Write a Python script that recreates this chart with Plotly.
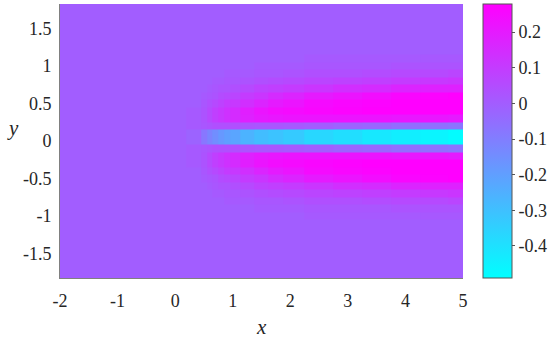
from __future__ import annotations

import plotly.graph_objects as go

# grid columns (x) and rows (y)
x_cols = [-2.0, -1.0, 0.0, 0.4, 0.5, 0.6, 0.7, 0.8, 0.9, 1.0,
          1.25, 1.5, 1.75, 2.0, 2.5, 3.0, 3.5, 4.0, 4.5, 5.0]
y_rows = [-1.8, -1.7, -1.6, -1.5, -1.4, -1.3, -1.2, -1.1, -1.0, -0.9,
          -0.8, -0.7, -0.6, -0.5, -0.4, -0.3, -0.2, -0.1, 0.0, 0.1,
          0.2, 0.3, 0.4, 0.5, 0.6, 0.7, 0.8, 0.9, 1.0, 1.1,
          1.2, 1.3, 1.4, 1.5, 1.6, 1.7, 1.8]

# row profiles along x
bg = [0.0] * 20
core = [0, 0, 0, -0.02, -0.08, -0.12, -0.15, -0.18, -0.2, -0.22,
        -0.26, -0.29, -0.31, -0.33, -0.37, -0.39, -0.42, -0.44, -0.46, -0.48]
edge = [0, 0, 0, 0.01, 0.02, 0.03, 0.04, 0.04, 0.04, 0.04,
        0.03, 0.02, 0.02, 0.01, 0.0, -0.02, -0.03, -0.05, -0.06, -0.07]
lobe1 = [0, 0, 0, 0.01, 0.03, 0.06, 0.09, 0.11, 0.13, 0.15,
         0.18, 0.2, 0.21, 0.22, 0.22, 0.22, 0.22, 0.21, 0.21, 0.2]
lobe2 = [0, 0, 0, 0.01, 0.03, 0.06, 0.09, 0.11, 0.13, 0.15,
         0.19, 0.22, 0.24, 0.25, 0.26, 0.27, 0.28, 0.28, 0.28, 0.28]
lobe3 = [0, 0, 0, 0, 0.02, 0.04, 0.06, 0.08, 0.1, 0.11,
         0.14, 0.17, 0.2, 0.22, 0.25, 0.26, 0.27, 0.28, 0.28, 0.28]
lobe4 = [0, 0, 0, 0, 0.01, 0.02, 0.03, 0.05, 0.06, 0.07,
         0.1, 0.12, 0.15, 0.17, 0.2, 0.22, 0.24, 0.26, 0.27, 0.28]
lobe5 = [0, 0, 0, 0, 0, 0.01, 0.02, 0.03, 0.03, 0.04,
         0.06, 0.08, 0.09, 0.1, 0.12, 0.14, 0.15, 0.17, 0.18, 0.18]
lobe6 = [0, 0, 0, 0, 0, 0, 0.01, 0.01, 0.02, 0.02,
         0.03, 0.04, 0.05, 0.06, 0.07, 0.08, 0.09, 0.1, 0.11, 0.12]
lobe7 = [0, 0, 0, 0, 0, 0, 0, 0, 0.01, 0.01,
         0.01, 0.02, 0.02, 0.03, 0.04, 0.04, 0.05, 0.06, 0.06, 0.07]
lobe8 = [0, 0, 0, 0, 0, 0, 0, 0, 0, 0,
         0, 0.01, 0.01, 0.01, 0.02, 0.02, 0.02, 0.03, 0.03, 0.03]
lobe9 = [0, 0, 0, 0, 0, 0, 0, 0, 0, 0,
         0, 0, 0, 0, 0.01, 0.01, 0.01, 0.01, 0.015, 0.015]

# bottom to top, one profile per y row
row_profiles = (
    [bg] * 8
    + [lobe9, lobe8, lobe7, lobe6, lobe5, lobe4, lobe3, lobe2, lobe1, edge]
    + [core, core]
    + [edge, lobe1, lobe2, lobe3, lobe4, lobe5, lobe6, lobe7, lobe8, lobe9]
    + [bg] * 7
)

x_ticks = [-2, -1, 0, 1, 2, 3, 4, 5]
y_ticks = [-1.5, -1, -0.5, 0, 0.5, 1, 1.5]
y_tick_text = ["-1.5", "-1", "-0.5", "0", "0.5", "1", "1.5"]
cb_ticks = [-0.4, -0.3, -0.2, -0.1, 0, 0.1, 0.2]
cb_tick_text = ["-0.4", "-0.3", "-0.2", "-0.1", "0", "0.1", "0.2"]

FONT = "Liberation Serif, Times New Roman, serif"
TEXT = "#262626"


def field_figure() -> go.Figure:
    fig = go.Figure(
        go.Heatmap(
            x=x_cols,
            y=y_rows,
            z=row_profiles,
            zmin=-0.49,
            zmax=0.279,
            colorscale=[[0, "rgb(0,255,255)"], [1, "rgb(255,0,255)"]],
            colorbar=dict(
                x=1.05,
                xanchor="left",
                xpad=0,
                y=0.5,
                yanchor="middle",
                len=1,
                lenmode="fraction",
                ypad=0,
                thickness=29,
                outlinecolor="#555555",
                outlinewidth=1,
                tickvals=cb_ticks,
                ticktext=cb_tick_text,
                ticks="outside",
                ticklen=3,
                tickcolor="#555555",
                tickfont=dict(family=FONT, size=18, color=TEXT),
            ),
        )
    )
    fig.update_layout(
        width=552,
        height=338,
        margin=dict(l=60, r=89, t=4, b=60, autoexpand=False),
        paper_bgcolor="white",
        plot_bgcolor="white",
        font=dict(family=FONT, size=18, color=TEXT),
        annotations=[
            dict(text="<i>x</i>", x=0.5, y=-0.179, xref="paper", yref="paper",
                 showarrow=False, font=dict(family=FONT, size=21, color=TEXT),
                 yanchor="middle"),
            dict(text="<i>y</i>", x=-0.117, y=0.547, xref="paper", yref="paper",
                 showarrow=False, font=dict(family=FONT, size=21, color=TEXT),
                 xanchor="center", yanchor="middle"),
        ],
    )
    fig.update_xaxes(
        range=[-2, 5],
        tickvals=x_ticks,
        ticktext=[str(v) for v in x_ticks],
        showgrid=False,
        zeroline=False,
        showline=True,
        linecolor="#808080",
        linewidth=1,
        ticks="",
        ticklabelstandoff=6,
        automargin=False,
    )
    fig.update_yaxes(
        range=[-1.83, 1.83],
        tickvals=y_ticks,
        ticktext=y_tick_text,
        showgrid=False,
        zeroline=False,
        showline=True,
        linecolor="#808080",
        linewidth=1,
        ticks="",
        ticklabelstandoff=4,
        automargin=False,
    )
    return fig


fig = field_figure()
# drop the browser's default 8px body margin so the figure sits at 0,0
fig.write_html(
    "out.html",
    config={"displayModeBar": False},
    post_script="document.body.style.margin = '0';",
)
